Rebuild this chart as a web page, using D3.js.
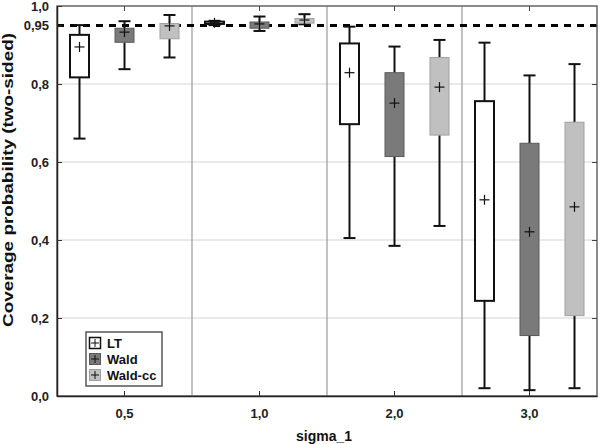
<!DOCTYPE html>
<html>
<head>
<meta charset="utf-8">
<script src="https://cdn.jsdelivr.net/npm/d3@7"></script>
<style>
html,body{margin:0;padding:0;background:#fff;}
svg{display:block;font-family:"Liberation Sans",Arial,sans-serif;}
</style>
</head>
<body>
<svg id="chart" width="600" height="444"></svg>
<script>
// ---- data ----
const categories = ["0,5", "1,0", "2,0", "3,0"];
const series = ["LT", "Wald", "Wald-cc"];
const yTickValues = [0, 0.2, 0.4, 0.6, 0.8, 0.95, 1.0];
const yTickLabels = ["0,0", "0,2", "0,4", "0,6", "0,8", "0,95", "1,0"];
const refLine = 0.95;

const ltHigh  = [0.951, 0.962, 0.947, 0.906];
const ltQ3    = [0.926, 0.960, 0.904, 0.756];
const ltMean  = [0.895, 0.957, 0.829, 0.503];
const ltQ1    = [0.817, 0.954, 0.697, 0.244];
const ltLow   = [0.660, 0.951, 0.405, 0.020];

const waldHigh = [0.961, 0.973, 0.896, 0.822];
const waldQ3   = [0.943, 0.959, 0.829, 0.648];
const waldMean = [0.933, 0.954, 0.751, 0.421];
const waldQ1   = [0.907, 0.943, 0.614, 0.155];
const waldLow  = [0.838, 0.936, 0.385, 0.015];

const ccHigh = [0.977, 0.979, 0.913, 0.851];
const ccQ3   = [0.955, 0.968, 0.868, 0.702];
const ccMean = [0.949, 0.964, 0.792, 0.485];
const ccQ1   = [0.916, 0.956, 0.669, 0.206];
const ccLow  = [0.868, 0.953, 0.436, 0.020];

const seriesData = {
  "LT":      {high: ltHigh, q3: ltQ3, mean: ltMean, q1: ltQ1, low: ltLow},
  "Wald":    {high: waldHigh, q3: waldQ3, mean: waldMean, q1: waldQ1, low: waldLow},
  "Wald-cc": {high: ccHigh, q3: ccQ3, mean: ccMean, q1: ccQ1, low: ccLow}
};
const styles = {
  "LT":      {fill: "#ffffff", stroke: "#111111", sw: 2},
  "Wald":    {fill: "#7a7a7a", stroke: "#5a5a5a", sw: 1},
  "Wald-cc": {fill: "#c0c0c0", stroke: "#a0a0a0", sw: 1}
};

// ---- layout ----
const L = 57, R = 597, T = 6, B = 396;
const svg = d3.select("#chart");

const x = d3.scaleBand().domain(categories).range([L, R]);
const xs = d3.scalePoint().domain(series).range([-x.bandwidth()/2, x.bandwidth()/2]).padding(0.5);
const y = d3.scaleLinear().domain([0, 1]).range([B, T]);
const boxW = 19, capW = 12, plusW = 5;

// gridlines
svg.append("g").selectAll("line").data([0.2, 0.4, 0.6, 0.8]).join("line")
  .attr("x1", L).attr("x2", R).attr("y1", d => y(d)).attr("y2", d => y(d))
  .attr("stroke", "#d4d4d4").attr("stroke-width", 1);

// category separators
svg.append("g").selectAll("line").data(categories.slice(1)).join("line")
  .attr("x1", d => x(d)).attr("x2", d => x(d)).attr("y1", T).attr("y2", B)
  .attr("stroke", "#9a9a9a").attr("stroke-width", 1.2);

// reference dashed line
svg.append("line")
  .attr("x1", L).attr("x2", R).attr("y1", y(refLine)).attr("y2", y(refLine))
  .attr("stroke", "#000").attr("stroke-width", 3).attr("stroke-dasharray", "7,6");

// boxes
series.forEach(s => {
  const d = seriesData[s], st = styles[s];
  const g = svg.append("g");
  categories.forEach((c, i) => {
    const cx = x(c) + x.bandwidth()/2 + xs(s);
    g.append("line").attr("x1", cx).attr("x2", cx).attr("y1", y(d.high[i])).attr("y2", y(d.q3[i]))
      .attr("stroke", "#111").attr("stroke-width", 2);
    g.append("line").attr("x1", cx).attr("x2", cx).attr("y1", y(d.q1[i])).attr("y2", y(d.low[i]))
      .attr("stroke", "#111").attr("stroke-width", 2);
    g.append("line").attr("x1", cx - capW/2).attr("x2", cx + capW/2).attr("y1", y(d.high[i])).attr("y2", y(d.high[i]))
      .attr("stroke", "#111").attr("stroke-width", 2);
    g.append("line").attr("x1", cx - capW/2).attr("x2", cx + capW/2).attr("y1", y(d.low[i])).attr("y2", y(d.low[i]))
      .attr("stroke", "#111").attr("stroke-width", 2);
    g.append("rect").attr("x", cx - boxW/2).attr("width", boxW)
      .attr("y", y(d.q3[i])).attr("height", Math.max(1, y(d.q1[i]) - y(d.q3[i])))
      .attr("fill", st.fill).attr("stroke", st.stroke).attr("stroke-width", st.sw);
    const my = y(d.mean[i]);
    g.append("line").attr("x1", cx - plusW).attr("x2", cx + plusW).attr("y1", my).attr("y2", my)
      .attr("stroke", "#111").attr("stroke-width", 1.2);
    g.append("line").attr("x1", cx).attr("x2", cx).attr("y1", my - plusW).attr("y2", my + plusW)
      .attr("stroke", "#111").attr("stroke-width", 1.2);
  });
});

// frame
svg.append("rect").attr("x", L).attr("y", T).attr("width", R - L).attr("height", B - T)
  .attr("fill", "none").attr("stroke", "#666").attr("stroke-width", 1.5);

// axes (ticks inward)
const yAxis = d3.axisLeft(y).tickValues(yTickValues).tickSizeInner(-5).tickSizeOuter(0)
  .tickPadding(8).tickFormat((d, i) => yTickLabels[i]);
const gy = svg.append("g").attr("transform", `translate(${L},0)`).call(yAxis);
gy.select(".domain").attr("stroke", "#222").attr("stroke-width", 1.5);
gy.selectAll(".tick line").attr("stroke", "#333");
gy.selectAll(".tick text").attr("font-family", "Liberation Sans, Arial, sans-serif")
  .attr("font-size", 13).attr("font-weight", "bold").attr("fill", "#222");

const yAxisR = d3.axisRight(y).tickValues([0.2, 0.4, 0.6, 0.8]).tickSizeInner(-5).tickSizeOuter(0).tickFormat("");
const gyr = svg.append("g").attr("transform", `translate(${R},0)`).call(yAxisR);
gyr.select(".domain").remove();
gyr.selectAll(".tick line").attr("stroke", "#444");

const xAxis = d3.axisBottom(x).tickSizeInner(-5).tickSizeOuter(0).tickPadding(13);
const gx = svg.append("g").attr("transform", `translate(0,${B})`).call(xAxis);
gx.select(".domain").attr("stroke", "#222").attr("stroke-width", 1.5);
gx.selectAll(".tick line").attr("stroke", "#333");
gx.selectAll(".tick text").attr("font-family", "Liberation Sans, Arial, sans-serif")
  .attr("font-size", 13).attr("font-weight", "bold").attr("fill", "#222");

const xAxisT = d3.axisTop(x).tickSizeInner(-5).tickSizeOuter(0).tickFormat("");
const gxt = svg.append("g").attr("transform", `translate(0,${T})`).call(xAxisT);
gxt.select(".domain").remove();
gxt.selectAll(".tick line").attr("stroke", "#444");

// titles
svg.append("text").attr("x", 324).attr("y", 441).attr("text-anchor", "middle")
  .attr("font-size", 14).attr("font-weight", "bold").attr("fill", "#111").text("sigma_1");
svg.append("text").attr("transform", `translate(13,${(33 + 327) / 2}) rotate(-90)`)
  .attr("text-anchor", "middle").attr("font-size", 15).attr("font-weight", "bold").attr("fill", "#111")
  .attr("textLength", 294).attr("lengthAdjust", "spacingAndGlyphs")
  .text("Coverage probability (two-sided)");

// legend
const lg = svg.append("g").attr("transform", "translate(86,332)");
lg.append("rect").attr("width", 76).attr("height", 54).attr("fill", "#fff")
  .attr("stroke", "#555").attr("stroke-width", 1.5);
series.forEach((s, i) => {
  const st = styles[s];
  const row = lg.append("g").attr("transform", `translate(3,${5 + i * 16})`);
  row.append("rect").attr("x", 0.5).attr("y", 0.5).attr("width", 11).attr("height", 11)
    .attr("fill", st.fill).attr("stroke", s === "LT" ? "#111" : st.stroke).attr("stroke-width", s === "LT" ? 1.5 : 1);
  row.append("line").attr("x1", 2).attr("x2", 10).attr("y1", 6).attr("y2", 6).attr("stroke", "#111").attr("stroke-width", 1);
  row.append("line").attr("x1", 6).attr("x2", 6).attr("y1", 2).attr("y2", 10).attr("stroke", "#111").attr("stroke-width", 1);
  row.append("text").attr("x", 18).attr("y", 11).attr("font-size", 13).attr("font-weight", "bold")
    .attr("fill", "#111").text(s);
});
</script>
</body>
</html>
